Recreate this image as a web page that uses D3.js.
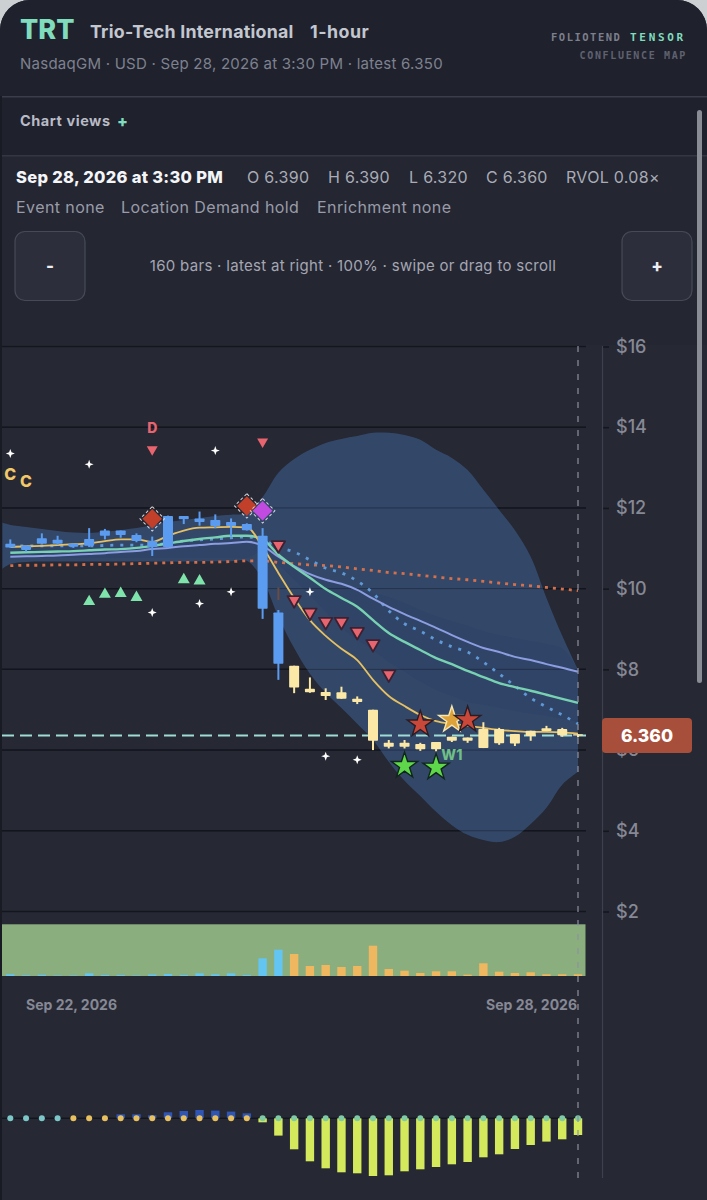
<!DOCTYPE html>
<html>
<head>
<meta charset="utf-8">
<script src="https://cdn.jsdelivr.net/npm/d3@7"></script>
<style>
  html, body { margin: 0; padding: 0; background: #ccd0d3; }
  svg { display: block; font-family: Inter, sans-serif; }
  .mono { font-family: 'DejaVu Sans Mono', monospace; }
</style>
</head>
<body>
<div id="chart"></div>
<script>
const open = [11.02,10.96,11.11,11.11,11.04,11.06,11.31,11.33,11.18,11.03,11.03,11.80,11.74,11.55,11.65,11.45,11.31,9.41,8.09,7.43,7.34,7.27,7.19,6.23,6.08,6.18,6.02,6.02,6.23,6.23,6.05,6.17,6.16,6.35,6.47,6.37,6.39]
const high = [11.22,11.08,11.37,11.31,11.12,11.50,11.48,11.44,11.37,11.29,11.81,11.80,11.91,11.84,11.74,11.62,11.50,9.47,8.09,7.80,7.53,7.57,7.33,7.00,6.25,6.25,6.18,6.20,6.33,6.31,6.69,6.55,6.40,6.48,6.60,6.55,6.39]
const low = [11.01,10.92,11.10,11.08,11.01,11.03,11.22,11.26,11.15,10.81,11.01,11.60,11.56,11.50,11.29,11.44,9.25,7.74,7.41,7.42,7.24,7.27,7.14,6.00,6.04,6.04,5.98,5.97,6.20,6.18,6.05,6.13,6.10,6.23,6.47,6.33,6.32]
const close = [11.11,11.06,11.25,11.21,11.11,11.23,11.44,11.44,11.33,11.18,11.80,11.72,11.65,11.70,11.55,11.60,9.50,8.14,7.55,7.52,7.44,7.43,7.27,7.00,6.18,6.08,6.15,6.20,6.33,6.31,6.52,6.52,6.40,6.48,6.54,6.52,6.36]

const emaFast = [11.03,11.05,11.06,11.08,11.10,11.12,11.18,11.22,11.22,11.16,11.31,11.44,11.51,11.52,11.53,11.52,11.03,10.39,9.77,9.22,8.83,8.51,8.23,7.74,7.34,7.09,6.87,6.72,6.65,6.60,6.55,6.50,6.47,6.45,6.45,6.44,6.41]
const emaMid = [10.89,10.90,10.91,10.92,10.93,10.95,10.97,10.98,11.01,11.06,11.12,11.18,11.23,11.27,11.31,11.31,11.22,10.84,10.54,10.27,9.99,9.77,9.55,9.22,8.90,8.68,8.48,8.28,8.13,7.96,7.81,7.66,7.56,7.47,7.37,7.27,7.17]
const emaSlow = [10.79,10.80,10.81,10.82,10.84,10.86,10.88,10.91,10.93,10.98,11.01,11.05,11.08,11.11,11.13,11.16,11.06,10.79,10.56,10.36,10.22,10.12,9.97,9.75,9.55,9.37,9.20,9.03,8.85,8.68,8.53,8.43,8.31,8.23,8.13,8.04,7.94]
const dottedBlue = [11.06,11.06,11.06,11.06,11.06,11.06,11.07,11.08,11.08,11.08,11.13,11.18,11.21,11.23,11.26,11.28,11.21,11.03,10.91,10.71,10.51,10.39,10.19,9.89,9.45,9.13,8.95,8.73,8.56,8.43,8.18,7.89,7.59,7.29,7.07,6.87,6.65]
const dottedOrange = [10.57,10.58,10.58,10.59,10.59,10.60,10.60,10.61,10.62,10.63,10.64,10.65,10.65,10.66,10.67,10.69,10.69,10.65,10.62,10.59,10.57,10.54,10.49,10.45,10.40,10.37,10.33,10.29,10.25,10.22,10.18,10.14,10.10,10.07,10.03,9.99,9.95]

// band starts half a bar left of the first candle
const bandIndex = [-0.5].concat(d3.range(37))
const bandUpper = [11.63,11.58,11.53,11.48,11.43,11.39,11.38,11.41,11.45,11.50,11.58,11.65,11.70,11.75,11.80,11.83,11.88,12.27,12.87,13.21,13.44,13.61,13.71,13.78,13.86,13.86,13.81,13.69,13.44,13.24,12.94,12.45,11.95,11.45,10.79,9.77,8.83,7.99]
const bandLower = [10.49,10.61,10.66,10.67,10.67,10.67,10.67,10.67,10.67,10.67,10.67,10.67,10.67,10.68,10.68,10.68,10.69,10.22,9.30,8.53,7.89,7.42,7.04,6.65,6.25,5.71,5.24,4.86,4.47,4.14,3.90,3.77,3.72,3.85,4.17,4.57,5.14,5.46]
const innerUpper = [11.05,11.05,11.05,11.05,11.05,11.05,11.05,11.05,11.05,11.05,11.10,11.14,11.18,11.20,11.22,11.23,11.06,10.81,10.59,10.39,10.22,10.09,9.97,9.89,9.79,9.65,9.47,9.32,9.20,9.08,8.95,8.85,8.78,8.70,8.63,8.52,7.99]
const innerLower = [10.76,10.76,10.76,10.76,10.76,10.76,10.76,10.76,10.76,10.76,10.76,10.76,10.76,10.76,10.76,10.76,10.91,10.59,10.22,9.84,9.42,9.03,8.73,8.48,8.18,7.94,7.69,7.49,7.34,7.19,7.12,7.04,6.97,6.90,6.85,6.77,6.70]

const volume = [1.7,0.7,1.2,0.5,0.5,2.7,1,1,0.5,1.5,2,1,2.7,1.7,2.7,1,17.7,26.3,22,10,11,9,10,30.3,7,5.3,3,4.7,4.7,1.3,12.7,4.3,3,3.7,1.7,1.7,1.7]
const oscillator = [0,0,0,0,0,0,0,0.04,0.04,0.03,0.06,0.073,0.083,0.077,0.067,0.05,-0.04,-0.173,-0.31,-0.43,-0.5,-0.54,-0.55,-0.577,-0.57,-0.53,-0.51,-0.487,-0.46,-0.437,-0.39,-0.36,-0.307,-0.267,-0.233,-0.21,-0.167]

const priceTicks = [16,14,12,10,8,6,4,2]
const lastPrice = 6.36

const flatDown = [{ i: 9, v: 13.45 }, { i: 16, v: 13.64 }]
const outlinedDown = [{ i: 17, v: 11.08 }, { i: 18, v: 9.72 }, { i: 19, v: 9.41 }, { i: 20, v: 9.18 }, { i: 21, v: 9.18 }, { i: 22, v: 8.93 }, { i: 23, v: 8.63 }, { i: 24, v: 7.88 }]
const greenUp = [{ i: 5, v: 9.68 }, { i: 6, v: 9.86 }, { i: 7, v: 9.88 }, { i: 8, v: 9.78 }, { i: 11, v: 10.22 }, { i: 12, v: 10.19 }]
const sparkles = [{ i: 0, v: 13.35 }, { i: 5, v: 13.08 }, { i: 13, v: 13.42 }, { i: 9, v: 9.41 }, { i: 12, v: 9.63 }, { i: 14, v: 9.92 }, { i: 19, v: 9.92 }, { i: 20, v: 5.85 }, { i: 22, v: 5.76 }]
const diamonds = [{ i: 9, v: 11.73, c: '#c23f2a' }, { i: 15, v: 12.05, c: '#c23f2a' }, { i: 16, v: 11.93, c: '#c14be0' }]
const stars = [{ i: 26, v: 6.64, c: '#c9483a', s: '#2a1c22' }, { i: 28, v: 6.75, c: '#dda23a', s: '#f6e7b0' }, { i: 29, v: 6.75, c: '#c9483a', s: '#2a1c22' }, { i: 25, v: 5.61, c: '#5ed84a', s: '#10261a' }, { i: 27, v: 5.57, c: '#5ed84a', s: '#10261a' }]
const letters = [{ i: 0, v: 12.84, t: 'C', c: '#f2c869' }, { i: 1, v: 12.65, t: 'C', c: '#f2c869' }, { i: 9, v: 13.98, t: 'D', c: '#e8646e' }, { i: 28, v: 5.88, t: 'W1', c: '#6fbf86' }]
const faintMark = { i: 17, hi: 10.03, lo: 9.72 }

const width = 707
const height = 1200

const svg = d3.select('#chart').append('svg').attr('width', width).attr('height', height)

const x = d3.scaleLinear().domain([0, 36]).range([10.3, 578])
const y = d3.scaleLinear().domain([2, 16]).range([911.5, 346.5])
const yVol = d3.scaleLinear().domain([0, 51.7]).range([976, 924.3])
const yOsc = d3.scaleLinear().domain([-1, 0]).range([1218.3, 1118.3])

// card
svg.append('rect').attr('width', width).attr('height', height + 40).attr('rx', 30).attr('fill', '#262834')
svg.append('path').attr('d', 'M0,30 A30,30 0 0 1 30,0 H677 A30,30 0 0 1 707,30 V155 H0 Z').attr('fill', '#1f212d')
svg.append('rect').attr('y', 155).attr('width', width).attr('height', 190).attr('fill', '#242632')
svg.append('rect').attr('y', 96).attr('width', width).attr('height', 1.5).attr('fill', '#3a3d4a')
svg.append('rect').attr('y', 155).attr('width', width).attr('height', 1.5).attr('fill', '#343743')
svg.append('rect').attr('y', 96).attr('width', 2).attr('height', 1104).attr('fill', '#191b24')

function label(px, py, str, size, weight, fill, anchor) {
  return svg.append('text').attr('x', px).attr('y', py).attr('font-size', size).attr('font-weight', weight)
    .attr('fill', fill).attr('text-anchor', anchor || 'start').text(str)
}

label(20, 39, 'TRT', 27, 800, '#7fdcbc')
label(90, 38, 'Trio-Tech International', 17.8, 700, '#c3c7d0').attr('letter-spacing', 0.25)
label(310, 38, '1-hour', 17.8, 700, '#c3c7d0').attr('letter-spacing', 0.5)
label(20, 69, 'NasdaqGM · USD · Sep 28, 2026 at 3:30 PM · latest 6.350', 15, 400, '#7e818f').attr('letter-spacing', 0.25)
label(551, 41, 'FOLIOTEND', 10.5, 700, '#7c7f8c').attr('class', 'mono').attr('letter-spacing', 1.5)
label(630, 41, 'TENSOR', 11, 700, '#7fdcbc').attr('class', 'mono').attr('letter-spacing', 2.7)
label(687, 59, 'CONFLUENCE MAP', 10, 700, '#5f6270', 'end').attr('class', 'mono').attr('letter-spacing', 1.65)
label(20, 126, 'Chart views', 14.5, 700, '#b8bbc5').attr('letter-spacing', 0.55)
label(117, 126.5, '+', 16, 800, '#7fdcbc')

label(16, 183, 'Sep 28, 2026 at 3:30 PM', 16.5, 800, '#f4f5f7').attr('letter-spacing', 0.3)
const ohlc = [['O 6.390', 247], ['H 6.390', 328], ['L 6.320', 409], ['C 6.360', 486], ['RVOL 0.08×', 566]]
ohlc.forEach(d => label(d[1], 183, d[0], 16, 400, '#a9acb6').attr('letter-spacing', 0.3))
const status = [['Event none', 16], ['Location Demand hold', 121], ['Enrichment none', 317]]
status.forEach(d => label(d[1], 213, d[0], 16, 400, '#999ca8').attr('letter-spacing', 0.42))

const buttons = [[15, '-'], [622, '+']]
buttons.forEach(d => {
  svg.append('rect').attr('x', d[0]).attr('y', 231.5).attr('width', 70).attr('height', 69).attr('rx', 10)
    .attr('fill', '#2c2f3b').attr('stroke', '#464a57').attr('stroke-width', 1.2)
  label(d[0] + 35, 272, d[1], 17, 800, '#eceef2', 'middle')
})
label(353, 271, '160 bars · latest at right · 100% · swipe or drag to scroll', 15, 400, '#a4a7b2', 'middle').attr('letter-spacing', 0.3)

// price pane
const grid = svg.append('g')
grid.selectAll('line').data(priceTicks).enter().append('line')
  .attr('x1', 2).attr('x2', 586)
  .attr('y1', d => y(d)).attr('y2', d => y(d))
  .attr('stroke', '#14161e').attr('stroke-width', 1.5)

const bandArea = d3.area().x((d, i) => x(bandIndex[i])).y0((d, i) => y(bandLower[i])).y1(d => y(d)).curve(d3.curveCatmullRom)
svg.append('path').datum(bandUpper).attr('d', bandArea).attr('fill', '#34496b').attr('fill-opacity', 0.97)
const innerArea = d3.area().x((d, i) => x(i)).y0((d, i) => y(innerLower[i])).y1(d => y(d)).curve(d3.curveCatmullRom)
svg.append('path').datum(innerUpper).attr('d', innerArea).attr('fill', '#304468')

// redraw grid faintly above the band
svg.append('g').selectAll('line').data(priceTicks).enter().append('line')
  .attr('x1', 2).attr('x2', 586)
  .attr('y1', d => y(d)).attr('y2', d => y(d))
  .attr('stroke', '#14161e').attr('stroke-width', 1).attr('stroke-opacity', 0.45)

const line = d3.line().x((d, i) => x(i)).y(d => y(d)).curve(d3.curveMonotoneX)
svg.append('path').datum(dottedOrange).attr('d', line).attr('fill', 'none').attr('stroke', '#d4704b').attr('stroke-width', 2.8).attr('stroke-dasharray', '3 5')
svg.append('path').datum(dottedBlue).attr('d', line).attr('fill', 'none').attr('stroke', '#5f9ad6').attr('stroke-width', 2.8).attr('stroke-dasharray', '3 7')
svg.append('path').datum(emaSlow).attr('d', line).attr('fill', 'none').attr('stroke', '#8c9de0').attr('stroke-width', 2)
svg.append('path').datum(emaMid).attr('d', line).attr('fill', 'none').attr('stroke', '#78d2b2').attr('stroke-width', 2.4)
svg.append('path').datum(emaFast).attr('d', line).attr('fill', 'none').attr('stroke', '#e6c062').attr('stroke-width', 1.8)

svg.append('line').attr('x1', 2).attr('x2', 586).attr('y1', y(lastPrice)).attr('y2', y(lastPrice))
  .attr('stroke', '#9fdcd6').attr('stroke-width', 2).attr('stroke-dasharray', '12 6')

svg.append('line').attr('x1', x(faintMark.i)).attr('x2', x(faintMark.i))
  .attr('y1', y(faintMark.hi)).attr('y2', y(faintMark.lo))
  .attr('stroke', '#6a4c44').attr('stroke-width', 2)

// candles
const candleColor = i => (i < 18 ? '#5b9cf0' : '#fbe8a6')
const candles = svg.append('g').selectAll('g').data(open).enter().append('g')
candles.append('line')
  .attr('x1', (d, i) => x(i)).attr('x2', (d, i) => x(i))
  .attr('y1', (d, i) => y(high[i])).attr('y2', (d, i) => y(low[i]))
  .attr('stroke', (d, i) => candleColor(i)).attr('stroke-width', 2)
candles.append('rect')
  .attr('x', (d, i) => x(i) - 5).attr('width', 10)
  .attr('y', (d, i) => y(Math.max(d, close[i])))
  .attr('height', (d, i) => Math.abs(y(d) - y(close[i])))
  .attr('rx', 0.8)
  .attr('fill', (d, i) => candleColor(i))

// markers
const place = d => `translate(${x(d.i)},${y(d.v)})`
const triangle = size => d3.symbol(d3.symbolTriangle, size)()
const star = size => d3.symbol(d3.symbolStar, size)()
const diamond = size => d3.symbol(d3.symbolSquare, size)()

svg.append('g').selectAll('path').data(flatDown).enter().append('path')
  .attr('d', triangle(52)).attr('transform', d => place(d) + ' rotate(180)').attr('fill', '#e8646e')
svg.append('g').selectAll('path').data(outlinedDown).enter().append('path')
  .attr('d', triangle(78)).attr('transform', d => place(d) + ' rotate(180)')
  .attr('fill', '#e8646e').attr('stroke', '#3a2233').attr('stroke-width', 1.8).attr('stroke-linejoin', 'round')
svg.append('g').selectAll('path').data(greenUp).enter().append('path')
  .attr('d', triangle(62)).attr('transform', place).attr('fill', '#7fe4ab')
svg.append('g').selectAll('path').data(sparkles).enter().append('path')
  .attr('d', 'M0,-4.5 L1.2,-1.2 L4.5,0 L1.2,1.2 L0,4.5 L-1.2,1.2 L-4.5,0 L-1.2,-1.2 Z').attr('transform', place).attr('fill', '#fff')

const diamondGroups = svg.append('g').selectAll('g').data(diamonds).enter().append('g')
  .attr('transform', d => place(d) + ' rotate(45)')
diamondGroups.append('path').attr('d', diamond(300)).attr('fill', 'none')
  .attr('stroke', '#d8d8de').attr('stroke-width', 1).attr('stroke-dasharray', '3 2.5')
diamondGroups.append('path').attr('d', diamond(190)).attr('fill', d => d.c)

svg.append('g').selectAll('path').data(stars).enter().append('path')
  .attr('d', star(215)).attr('transform', place)
  .attr('fill', d => d.c).attr('stroke', d => d.s).attr('stroke-width', 1.4)

svg.append('g').selectAll('text').data(letters).enter().append('text')
  .attr('x', d => x(d.i)).attr('y', d => y(d.v)).attr('dy', '0.36em')
  .attr('text-anchor', 'middle').attr('font-size', d => (d.t === 'C' ? 16 : 14)).attr('font-weight', 800)
  .attr('fill', d => d.c).text(d => d.t)

// right axis
const yAxis = d3.axisRight(y).tickValues(priceTicks).tickSize(7).tickPadding(7).tickFormat(d => '$' + d)
const axisG = svg.append('g').attr('transform', 'translate(602,0)').call(yAxis)
axisG.select('.domain').remove()
axisG.selectAll('.tick line').attr('stroke', '#14161e').attr('stroke-width', 1.5)
axisG.selectAll('.tick text').attr('fill', '#868995').attr('font-size', 18).attr('font-family', 'Inter, sans-serif').attr('font-weight', 500)
svg.append('line').attr('x1', 602.5).attr('x2', 602.5).attr('y1', 346).attr('y2', 1178).attr('stroke', '#3d404d').attr('stroke-width', 1.2)

svg.append('rect').attr('x', 602).attr('y', 718).attr('width', 90).attr('height', 35).attr('rx', 4).attr('fill', '#a84f3c')
label(647, y(lastPrice) + 6.5, lastPrice.toFixed(3), 17.5, 800, '#ffffff', 'middle')

// volume pane
svg.append('rect').attr('x', 2).attr('y', yVol(51.7)).attr('width', 583.5).attr('height', yVol(0) - yVol(51.7)).attr('fill', '#8aae7e')
svg.append('g').selectAll('rect').data(volume).enter().append('rect')
  .attr('x', (d, i) => x(i) - 4.2).attr('width', 8.4)
  .attr('y', d => yVol(d)).attr('height', d => yVol(0) - yVol(d))
  .attr('fill', (d, i) => (i < 18 ? '#63c5f2' : '#efb75f'))

label(26, 1010, 'Sep 22, 2026', 14, 700, '#868995')
label(577, 1010, 'Sep 28, 2026', 14, 700, '#868995', 'end')

// oscillator pane
svg.append('line').attr('x1', 2).attr('x2', 580).attr('y1', yOsc(0)).attr('y2', yOsc(0)).attr('stroke', '#14161e').attr('stroke-width', 1.5)
svg.append('g').selectAll('rect').data(oscillator).enter().append('rect')
  .attr('x', (d, i) => x(i) - 4.2).attr('width', 8.4)
  .attr('y', d => yOsc(Math.max(d, 0)))
  .attr('height', d => Math.abs(yOsc(d) - yOsc(0)))
  .attr('fill', d => (d > 0 ? '#2f55b5' : '#d4ea5c'))
const dotColor = i => (i < 4 ? '#7cc8c8' : i < 16 ? '#e8c060' : '#7ecba5')
svg.append('g').selectAll('circle').data(oscillator).enter().append('circle')
  .attr('cx', (d, i) => x(i)).attr('cy', yOsc(0)).attr('r', 3)
  .attr('fill', (d, i) => dotColor(i))

// crosshair and scrollbar
svg.append('line').attr('x1', x(36)).attr('x2', x(36)).attr('y1', 346).attr('y2', 1178)
  .attr('stroke', '#8e919e').attr('stroke-width', 1.2).attr('stroke-dasharray', '6 8')
svg.append('rect').attr('x', 697).attr('y', 110).attr('width', 5).attr('height', 573).attr('rx', 2.5).attr('fill', '#8a8c95')
</script>
</body>
</html>
